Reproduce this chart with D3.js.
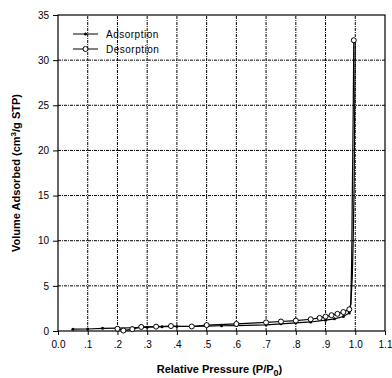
<!DOCTYPE html>
<html>
<head>
<meta charset="utf-8">
<script src="https://cdn.jsdelivr.net/npm/d3@7"></script>
<style>
  body { margin: 0; background: #fff; }
  svg { font-family: "Liberation Sans", Arial, sans-serif; }
  .grid line { stroke: #000; stroke-width: 1; stroke-dasharray: 3,1,1,1; }
  .axis path, .axis line { stroke: #000; }
  .axis text { font-size: 10px; fill: #000; }
  .curve { fill: none; stroke: #000; stroke-width: 1.2; }
  .axis-label { font-size: 11px; font-weight: bold; }
  .legend text { font-size: 10px; letter-spacing: 0.5px; }
</style>
</head>
<body>
<div id="chart"></div>
<script>
// adsorption branch (P/P0, volume)
const adsP = [0.05, 0.10, 0.15, 0.20, 0.25, 0.28, 0.30, 0.33, 0.35, 0.40, 0.45, 0.50, 0.55, 0.60, 0.70, 0.75, 0.80, 0.85, 0.90, 0.93, 0.96, 0.98, 0.985, 0.99, 0.993, 0.996, 0.998, 1.0];
const adsV = [0.2, 0.22, 0.3, 0.32, 0.36, 0.4, 0.42, 0.45, 0.47, 0.5, 0.52, 0.55, 0.58, 0.6, 0.68, 0.8, 0.9, 1.0, 1.2, 1.35, 1.6, 2.0, 3.0, 6.0, 10, 16, 24, 32.2];

// desorption branch
const desP = [0.995, 0.993, 0.99, 0.988, 0.985, 0.98, 0.96, 0.94, 0.92, 0.90, 0.88, 0.85, 0.80, 0.75, 0.70, 0.60, 0.50, 0.45, 0.38, 0.33, 0.28, 0.25, 0.22, 0.20];
const desV = [32.2, 24, 15, 8, 3, 2.4, 2.1, 1.9, 1.75, 1.6, 1.45, 1.3, 1.15, 1.05, 0.95, 0.78, 0.65, 0.5, 0.55, 0.48, 0.45, 0.2, 0.05, 0.25];

const xTicks = [0, 0.1, 0.2, 0.3, 0.4, 0.5, 0.6, 0.7, 0.8, 0.9, 1.0, 1.1];
const xTickLabels = ["0.0", ".1", ".2", ".3", ".4", ".5", ".6", ".7", ".8", ".9", "1.0", "1.1"];
const yTicks = [0, 5, 10, 15, 20, 25, 30, 35];

const width = 392, height = 378;
const margin = { top: 15, right: 7, bottom: 47, left: 58 };

const svg = d3.select("#chart").append("svg")
  .attr("width", width)
  .attr("height", height);

const x = d3.scaleLinear().domain([0, 1.1]).range([margin.left, width - margin.right]);
const y = d3.scaleLinear().domain([0, 35]).range([height - margin.bottom, margin.top]);

// grid lines
const grid = svg.append("g").attr("class", "grid");
grid.selectAll(".vx").data(xTicks.slice(1, -1)).join("line")
  .attr("x1", d => x(d)).attr("x2", d => x(d))
  .attr("y1", y(0)).attr("y2", y(35));
grid.selectAll(".hy").data(yTicks.slice(1, -1)).join("line")
  .attr("x1", x(0)).attr("x2", x(1.1))
  .attr("y1", d => y(d)).attr("y2", d => y(d));

// frame
svg.append("rect")
  .attr("x", x(0)).attr("y", y(35))
  .attr("width", x(1.1) - x(0)).attr("height", y(0) - y(35))
  .attr("fill", "none").attr("stroke", "#000").attr("stroke-width", 1.2);

// axes
svg.append("g").attr("class", "axis")
  .attr("transform", `translate(0,${y(0)})`)
  .call(d3.axisBottom(x).tickValues(xTicks).tickSize(4).tickPadding(6)
    .tickFormat((d, i) => xTickLabels[i]))
  .call(g => g.select(".domain").remove());

svg.append("g").attr("class", "axis")
  .attr("transform", `translate(${x(0)},0)`)
  .call(d3.axisLeft(y).tickValues(yTicks).tickSize(5).tickPadding(4))
  .call(g => g.select(".domain").remove());

// curves
const adsData = adsP.map((p, i) => [p, adsV[i]]);
const desData = desP.map((p, i) => [p, desV[i]]);
const line = d3.line().x(d => x(d[0])).y(d => y(d[1]));

svg.append("path").datum(adsData).attr("class", "curve").attr("d", line);
svg.append("path").datum(desData).attr("class", "curve").attr("d", line);

svg.selectAll(".ads-pt").data(adsData.filter(d => d[1] < 3)).join("circle")
  .attr("cx", d => x(d[0])).attr("cy", d => y(d[1]))
  .attr("r", 1.5).attr("fill", "#000");
svg.selectAll(".des-pt").data(desData.filter(d => d[1] < 3 || d[1] > 30)).join("circle")
  .attr("cx", d => x(d[0])).attr("cy", d => y(d[1]))
  .attr("r", 2.5).attr("fill", "#fff").attr("stroke", "#000").attr("stroke-width", 1);

// legend
const legend = svg.append("g").attr("class", "legend").attr("transform", "translate(73,34)");
legend.append("line").attr("x1", 0).attr("x2", 25).attr("y1", 0).attr("y2", 0).attr("stroke", "#000");
legend.append("circle").attr("cx", 12.5).attr("cy", 0).attr("r", 1.5).attr("fill", "#000");
legend.append("text").attr("x", 33).attr("y", 3.5).text("Adsorption");
legend.append("line").attr("x1", 0).attr("x2", 25).attr("y1", 15).attr("y2", 15).attr("stroke", "#000");
legend.append("circle").attr("cx", 12.5).attr("cy", 15).attr("r", 2.5).attr("fill", "#fff").attr("stroke", "#000");
legend.append("text").attr("x", 33).attr("y", 18.5).text("Desorption");

// axis titles
svg.append("text").attr("class", "axis-label")
  .attr("x", (x(0) + x(1.1)) / 2 - 2).attr("y", 373)
  .attr("text-anchor", "middle")
  .html('Relative Pressure (P/P<tspan dy="3" font-size="9">0</tspan><tspan dy="-3">)</tspan>');

svg.append("text").attr("class", "axis-label")
  .attr("transform", `translate(20,${(y(0) + y(35)) / 2}) rotate(-90)`)
  .attr("text-anchor", "middle")
  .html('Volume Adsorbed (cm<tspan dy="-4" font-size="8">3</tspan><tspan dy="4">/g STP)</tspan>');
</script>
</body>
</html>
